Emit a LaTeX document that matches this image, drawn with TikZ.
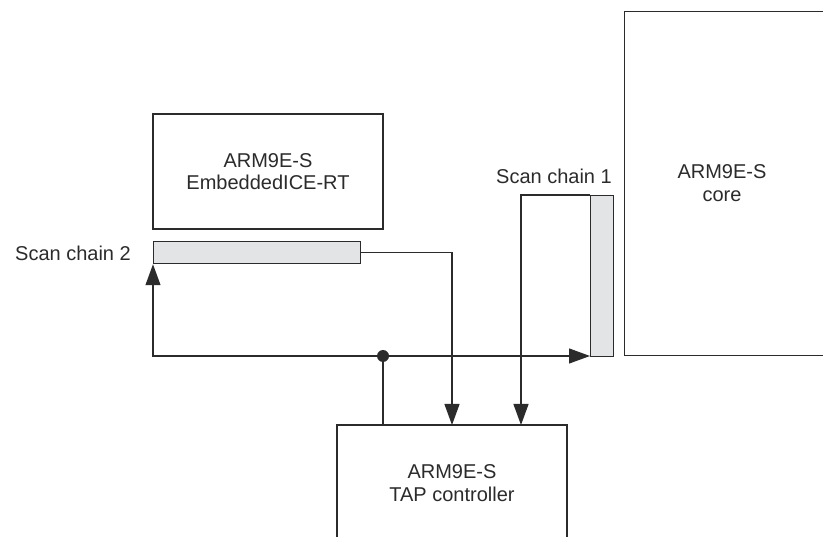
\documentclass[tikz,border=0pt]{standalone}
\usepackage{fontspec}
\setmainfont{Liberation Sans}
\usetikzlibrary{arrows.meta}
\definecolor{ln}{HTML}{2B2B2B}
\definecolor{barfill}{HTML}{E3E4E5}
\begin{document}
\begin{tikzpicture}[x=1pt,y=-1pt,
  every node/.style={font=\fontsize{20}{22.5}\selectfont, text=ln},
  box/.style={draw=ln, line width=1.25pt, fill=white, inner sep=0pt, align=center},
  bar/.style={draw=ln, line width=1.25pt, fill=barfill, inner sep=0pt},
  conn/.style={draw=ln, line width=1.25pt},
  arr/.style={conn, -{Triangle[length=21pt,width=15pt]}}
]
\useasboundingbox (0,0) rectangle (823,537);
\clip (0,0) rectangle (823,537);
% boxes
\node[box, minimum width=230pt, minimum height=115pt] (ice) at (268,171.5) {ARM9E-S\\EmbeddedICE-RT};
\node[box, minimum width=230pt, minimum height=116pt] (tap) at (452,483) {ARM9E-S\\TAP controller};
\node[box, minimum width=260pt, minimum height=344pt, anchor=north west] (core) at (624,11) {};
\node[align=center, inner sep=0pt] (coretext) at (722,183) {ARM9E-S\\core};
% scan chains
\node[bar, minimum width=207pt, minimum height=22pt, anchor=north west] (sc2) at (153,241) {};
\node[bar, minimum width=23pt, minimum height=161pt, anchor=north west] (sc1) at (590,195) {};
\node[anchor=east, inner sep=0pt] (sc2lbl) at (131,253) {Scan chain 2};
\node[anchor=east, inner sep=0pt] (sc1lbl) at (612,176) {Scan chain 1};
% coordinates
\coordinate (t0) at (383,425);
\coordinate (t1) at (452,425);
\coordinate (t2) at (521,425);
\coordinate (dot) at (383,356);
% connectors
\draw[arr] (sc2.east) -| (t1);
\draw[arr] (sc1.north west) -| (t2);
\draw[conn] (t0) -- (dot);
\draw[arr] (dot) -- (dot -| sc1.west);
\draw[arr] (dot) -| (sc2.south west);
\fill[ln] (dot) circle[radius=6pt];
\end{tikzpicture}
\end{document}
